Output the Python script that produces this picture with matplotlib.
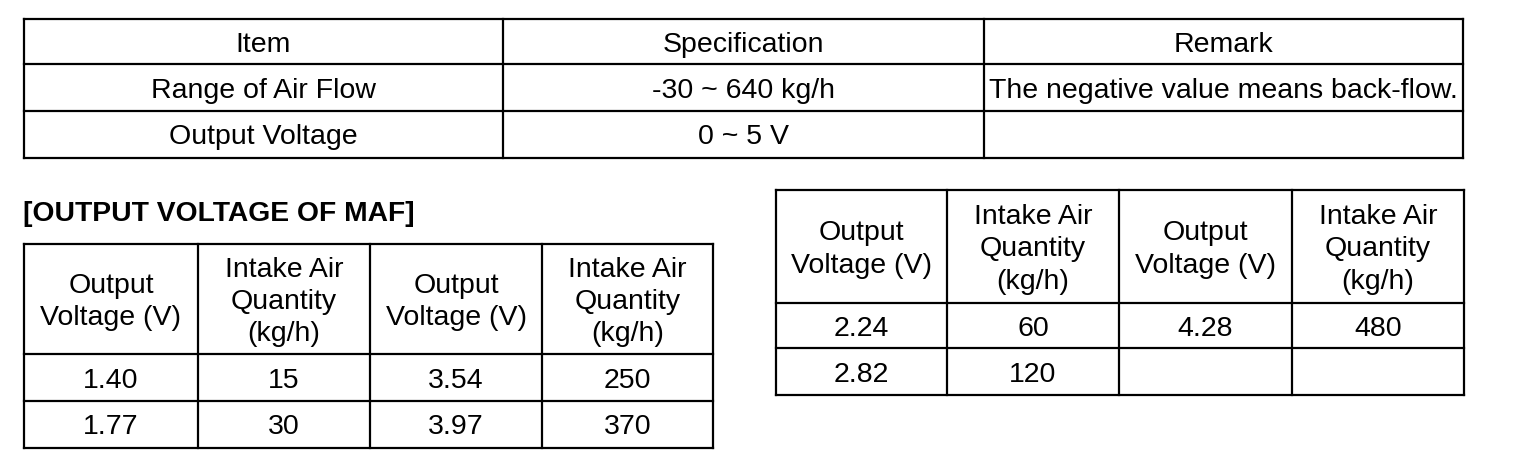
import matplotlib
matplotlib.use("Agg")
import matplotlib.pyplot as plt

plt.rcParams['font.family'] = ['Liberation Sans', 'DejaVu Sans']

# Data
spec_header = ["Item", "Specification", "Remark"]
spec_items = ["Range of Air Flow", "Output Voltage"]
spec_values = ["-30 ~ 640 kg/h", "0 ~ 5 V"]
spec_remarks = ["The negative value means back-flow.", ""]

maf_header = ["Output\nVoltage (V)", "Intake Air\nQuantity\n(kg/h)",
              "Output\nVoltage (V)", "Intake Air\nQuantity\n(kg/h)"]
volt_left_a = ["1.40", "1.77"]
flow_left_a = ["15", "30"]
volt_left_b = ["3.54", "3.97"]
flow_left_b = ["250", "370"]
volt_right_a = ["2.24", "2.82"]
flow_right_a = ["60", "120"]
volt_right_b = ["4.28", ""]
flow_right_b = ["480", ""]

title = "[OUTPUT VOLTAGE OF MAF]"

W, H = 1520, 472
fig = plt.figure(figsize=(W / 100, H / 100), dpi=100)
ax = fig.add_axes([0, 0, 1, 1])
ax.set_xlim(0, W)
ax.set_ylim(H, 0)
ax.axis('off')

LW = 1.6
FS = 20.5


def draw_table(cols, rows, cells):
    # grid lines
    for x in cols:
        ax.plot([x, x], [rows[0], rows[-1]], color='black', lw=LW, solid_capstyle='projecting')
    for y in rows:
        ax.plot([cols[0], cols[-1]], [y, y], color='black', lw=LW, solid_capstyle='projecting')
    for r, row in enumerate(cells):
        yc = (rows[r] + rows[r + 1]) / 2 + 3
        for c, txt in enumerate(row):
            xc = (cols[c] + cols[c + 1]) / 2
            ax.text(xc, yc, txt, ha='center', va='center', fontsize=FS,
                    linespacing=1.32, color='black')


# top spec table
top_cells = [spec_header] + [list(r) for r in zip(spec_items, spec_values, spec_remarks)]
draw_table([24, 503, 984, 1463], [19, 64, 111, 158], top_cells)

# title
ax.text(23, 214, title, ha='left', va='center', fontsize=20.3, fontweight='bold')

# left MAF table
left_cells = [maf_header] + [list(r) for r in zip(volt_left_a, flow_left_a, volt_left_b, flow_left_b)]
draw_table([24, 198, 370, 542, 713], [244, 354, 401, 448], left_cells)

# right MAF table
right_cells = [maf_header] + [list(r) for r in zip(volt_right_a, flow_right_a, volt_right_b, flow_right_b)]
draw_table([776, 947, 1119, 1292, 1464], [190, 303, 348, 395], right_cells)

fig.savefig("out.png", dpi=100, facecolor='white')
